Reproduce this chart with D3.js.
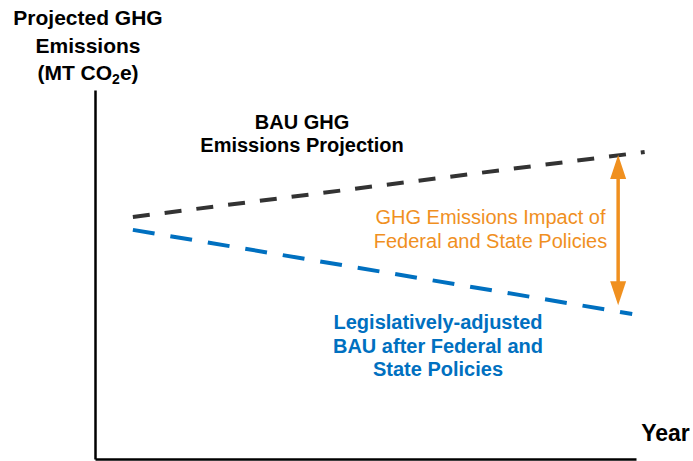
<!DOCTYPE html>
<html><head><meta charset="utf-8">
<script src="https://cdn.jsdelivr.net/npm/d3@7"></script>
<style>body{margin:0;background:#fff}svg{display:block;font-family:"Liberation Sans",Arial,sans-serif}</style>
</head><body><svg id="c" width="693" height="461"></svg>
<script>
const xDomain = [0, 10];
const yDomain = [0, 100];
const bauX = [0.7, 10.16];
const bauY = [65.6, 83.2];
const adjX = [0.7, 9.93];
const adjY = [62.1, 39.3];
const arrowX = 9.67;
const arrowY = [82.4, 41.7];

const svg = d3.select("#c");
const x = d3.scaleLinear().domain(xDomain).range([95, 636]);
const y = d3.scaleLinear().domain(yDomain).range([459, 90]);

svg.append("g").attr("transform","translate(0,459)")
  .call(d3.axisBottom(x).tickValues([]).tickSizeOuter(0))
  .call(g=>g.select(".domain").attr("stroke","#000").attr("stroke-width",2.5));
svg.append("g").attr("transform","translate(95,0)")
  .call(d3.axisLeft(y).tickValues([]).tickSizeOuter(0))
  .call(g=>g.select(".domain").attr("stroke","#000").attr("stroke-width",2.5));

const line = d3.line().x(d=>x(d[0])).y(d=>y(d[1]));
svg.append("path").datum(d3.zip(bauX,bauY)).attr("d",line)
  .attr("fill","none").attr("stroke","#333").attr("stroke-width",4).attr("stroke-dasharray","17,15");
svg.append("path").datum(d3.zip(adjX,adjY)).attr("d",line)
  .attr("fill","none").attr("stroke","#0070C0").attr("stroke-width",4).attr("stroke-dasharray","22,16");

const orange = "#F0901F";
const ax = x(arrowX), at = y(arrowY[0]), ab = y(arrowY[1]);
svg.append("line").attr("x1",ax).attr("x2",ax).attr("y1",at+20).attr("y2",ab-20)
  .attr("stroke",orange).attr("stroke-width",3.5);
svg.append("path").attr("d",`M${ax},${at} L${ax-8},${at+24} L${ax+8},${at+24} Z`).attr("fill",orange);
svg.append("path").attr("d",`M${ax},${ab} L${ax-8},${ab-24} L${ax+8},${ab-24} Z`).attr("fill",orange);

function lines(cx, ys, arr, opts){
  arr.forEach((t,i)=>{
    const tx = svg.append("text").attr("x",cx).attr("y",ys[i]).attr("text-anchor",opts.anchor||"middle")
      .attr("font-size",opts.size).attr("font-weight",opts.weight).attr("fill",opts.fill);
    if(typeof t === "string") tx.text(t);
    else t(tx);
  });
}
lines(88,[25,53,80],["Projected GHG","Emissions",t=>{
  t.append("tspan").text("(MT CO");
  t.append("tspan").text("2").attr("font-size",14).attr("dy",4);
  t.append("tspan").text("e)").attr("dy",-4);
}],{size:21,weight:"bold",fill:"#000"});
lines(665.5,[441],["Year"],{size:23,weight:"bold",fill:"#000"});
lines(302,[129,152],["BAU GHG","Emissions Projection"],{size:20,weight:"bold",fill:"#000"});
lines(490.5,[224,248],["GHG Emissions Impact of","Federal and State Policies"],{size:20,weight:"normal",fill:orange});
lines(438,[329,353,376],["Legislatively-adjusted","BAU after Federal and","State Policies"],{size:20,weight:"bold",fill:"#0070C0"});
</script></body></html>
